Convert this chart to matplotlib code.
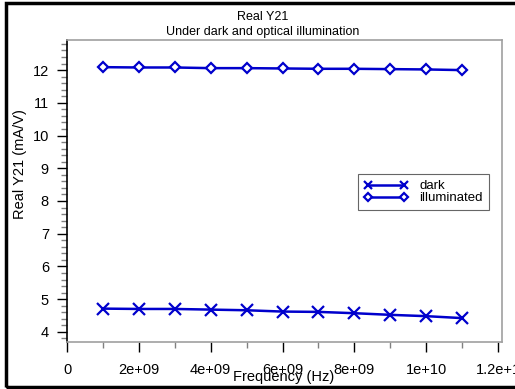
import matplotlib
matplotlib.use("Agg")
import matplotlib.pyplot as plt
from matplotlib.patches import Rectangle
from matplotlib.ticker import MultipleLocator

plt.rcParams['font.family'] = ['Liberation Sans', 'DejaVu Sans']

freq = [1e9, 2e9, 3e9, 4e9, 5e9, 6e9, 7e9, 8e9, 9e9, 1e10, 1.1e10]
dark = [4.71, 4.70, 4.70, 4.68, 4.66, 4.62, 4.61, 4.57, 4.52, 4.48, 4.42]
illuminated = [12.09, 12.08, 12.08, 12.06, 12.06, 12.05, 12.04, 12.04, 12.03, 12.02, 12.00]
xticks = [0, 2e9, 4e9, 6e9, 8e9, 1e10, 1.2e10]
xticklabels = ['0', '2e+09', '4e+09', '6e+09', '8e+09', '1e+10', '1.2e+1']
yticks = [4, 5, 6, 7, 8, 9, 10, 11, 12]

W, H = 515, 389
fig = plt.figure(figsize=(W / 100, H / 100), dpi=100)
ax = fig.add_axes([67 / W, 1 - 342 / H, (502 - 67) / W, (342 - 40) / H])

blue = '#0000CC'
ax.plot(freq, dark, color=blue, lw=1.8, marker='x', ms=8, mew=1.6, label='dark')
ax.plot(freq, illuminated, color=blue, lw=1.8, marker='D', ms=5.5, mew=1.6,
        mfc='white', label='illuminated')

ax.set_xlim(0, 1.211e10)
ax.set_ylim(3.69, 12.92)
ax.set_xticks(xticks)
ax.set_xticklabels(xticklabels)
ax.set_yticks(yticks)
ax.xaxis.set_minor_locator(MultipleLocator(1e9))
ax.yaxis.set_minor_locator(MultipleLocator(0.2))
ax.tick_params(which='major', direction='out', length=7, width=1, labelsize=10.5)
ax.tick_params(which='minor', direction='out', length=4, width=1, color='#808080')
ax.tick_params(axis='x', which='major', pad=8)
ax.tick_params(axis='y', which='major', pad=6)

for s in ['top', 'right', 'bottom']:
    ax.spines[s].set_color('#a0a0a0')
    ax.spines[s].set_linewidth(1.2)
ax.spines['left'].set_color('black')
ax.spines['left'].set_linewidth(1.2)

ax.set_xlabel('Frequency (Hz)', fontsize=10.5)
ax.xaxis.set_label_coords((284 - 67) / (502 - 67), -(377 - 342) / (342 - 40), transform=ax.transAxes)
ax.xaxis.label.set_va('center')
ax.set_ylabel('Real Y21 (mA/V)', fontsize=10.5)
ax.yaxis.set_label_coords(-(67 - 20) / (502 - 67), (342 - 164) / (342 - 40))
ax.yaxis.label.set_va('center')

fig.text(263 / W, 1 - 16.5 / H, 'Real Y21', ha='center', va='center', fontsize=9)
fig.text(263 / W, 1 - 32.5 / H, 'Under dark and optical illumination', ha='center', va='center', fontsize=9)

leg = ax.legend(loc='upper left',
                bbox_to_anchor=((358 - 67) / (502 - 67), 1 - (174 - 40) / (342 - 40)),
                fontsize=9.5, frameon=True, fancybox=False, edgecolor='#404040',
                borderpad=0.45, labelspacing=0.0, handlelength=3.3, handletextpad=0.9,
                borderaxespad=0, numpoints=2, markerscale=0.75)
leg.get_frame().set_linewidth(0.8)

fig.add_artist(Rectangle((6 / W, 2.5 / H), 1.2, 1 - 5 / H, transform=fig.transFigure,
                         fill=False, edgecolor='black', lw=2.5, clip_on=False))

fig.savefig('out.png', dpi=100)
